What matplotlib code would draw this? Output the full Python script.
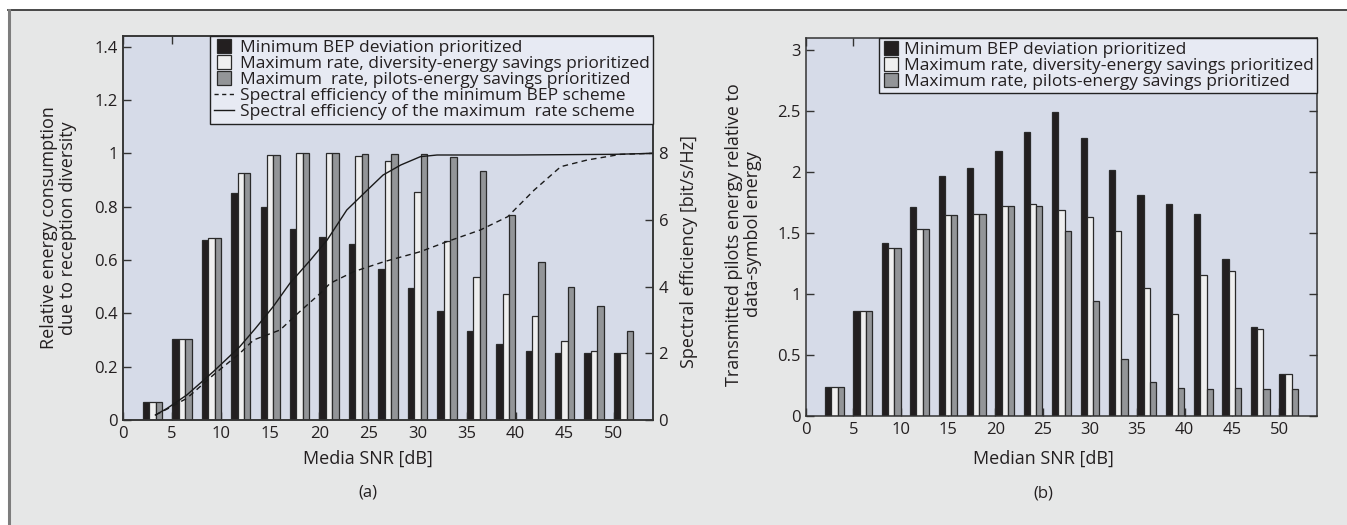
import numpy as np
import matplotlib
matplotlib.use("Agg")
import matplotlib.pyplot as plt
from matplotlib.lines import Line2D
from matplotlib.patches import Rectangle

# ---- data -------------------------------------------------------------
snr = [3, 6, 9, 12, 15, 18, 21, 24, 27, 30, 33, 36, 39, 42, 45, 48, 51]

# (a) relative energy consumption due to reception diversity
energy_min_bep = [0.066, 0.304, 0.675, 0.852, 0.80, 0.717, 0.687, 0.659, 0.566,
                  0.494, 0.409, 0.334, 0.284, 0.259, 0.252, 0.25, 0.25]
energy_div_save = [0.066, 0.304, 0.684, 0.925, 0.994, 1.0, 1.0, 0.99, 0.97,
                   0.856, 0.672, 0.535, 0.471, 0.39, 0.297, 0.26, 0.25]
energy_pil_save = [0.066, 0.304, 0.684, 0.925, 0.994, 1.0, 1.0, 0.996, 0.996,
                   0.997, 0.987, 0.935, 0.769, 0.594, 0.497, 0.429, 0.335]

# spectral efficiency curves [bit/s/Hz]
se_max_snr = [3.3, 4.5, 6.5, 9.2, 11.9, 13.5, 15.3, 17.0, 19.1, 20.8, 22.8,
              24.9, 26.5, 28.3, 30.3, 32.0, 40.0, 50.0, 54.0]
se_max = [0.15, 0.35, 0.75, 1.45, 2.2, 2.75, 3.4, 4.1, 4.8, 5.4, 6.3,
          6.9, 7.35, 7.65, 7.9, 7.95, 7.95, 7.97, 8.0]
se_min_snr = [3.3, 4.5, 6.5, 9.2, 11.9, 13.3, 16.0, 18.0, 20.1, 21.1, 23.5,
              26.6, 30.3, 33.0, 36.4, 39.2, 41.9, 44.6, 47.3, 50.7, 54.0]
se_min = [0.15, 0.33, 0.65, 1.35, 2.0, 2.4, 2.7, 3.25, 3.8, 4.1, 4.45,
          4.75, 5.05, 5.35, 5.7, 6.1, 6.9, 7.6, 7.8, 7.97, 8.0]

# (b) transmitted pilots energy relative to data-symbol energy
pilot_min_bep = [0.24, 0.858, 1.42, 1.71, 1.97, 2.03, 2.17, 2.33, 2.49, 2.28,
                 2.02, 1.81, 1.74, 1.66, 1.29, 0.727, 0.347]
pilot_div_save = [0.24, 0.858, 1.38, 1.53, 1.65, 1.66, 1.72, 1.74, 1.69, 1.63,
                  1.52, 1.05, 0.84, 1.16, 1.19, 0.71, 0.347]
pilot_pil_save = [0.24, 0.858, 1.38, 1.53, 1.65, 1.66, 1.72, 1.72, 1.52, 0.94,
                  0.47, 0.28, 0.227, 0.219, 0.227, 0.219, 0.22]

bar_labels = ["Minimum BEP deviation prioritized",
              "Maximum rate, diversity-energy savings prioritized",
              "Maximum  rate, pilots-energy savings prioritized"]
bar_labels_b = ["Minimum BEP deviation prioritized",
                "Maximum rate, diversity-energy savings prioritized",
                "Maximum rate, pilots-energy savings prioritized"]
line_labels = ["Spectral efficiency of the minimum BEP scheme",
               "Spectral efficiency of the maximum  rate scheme"]

# ---- style ------------------------------------------------------------
TXT = "#231f20"
DARK = "#231f20"
WHITE = "#efefef"
GRAY = "#939598"
AX_BG = "#d6dbe8"
LEG_BG = "#e7eaf3"
FIG_BG = "#e6e7e7"

TICK_FS = 12
LABEL_FS = 13
LEG_FS = 12.5

plt.rcParams["font.family"] = ["Open Sans", "DejaVu Sans"]
plt.rcParams["font.size"] = TICK_FS
plt.rcParams["text.color"] = TXT
plt.rcParams["axes.labelcolor"] = TXT
plt.rcParams["xtick.color"] = TXT
plt.rcParams["ytick.color"] = TXT

W, H = 1347, 525
fig = plt.figure(figsize=(W / 100, H / 100), dpi=100, facecolor="white")

# panel background with its frame lines
fig.patches.append(Rectangle((8 / W, 0), 1 - 8 / W, 1 - 9.5 / H, transform=fig.transFigure,
                             facecolor=FIG_BG, edgecolor="none", zorder=-10))
fig.add_artist(Line2D([8 / W, 1], [1 - 9.5 / H, 1 - 9.5 / H], transform=fig.transFigure,
                      color="#3a3a3a", lw=1.3))
fig.add_artist(Line2D([8.5 / W, 8.5 / W], [0, 1 - 9.5 / H], transform=fig.transFigure,
                      color="#7d7d7d", lw=2.2))

bw = 0.66
offsets = [-bw, 0.0, bw]
colors = [DARK, WHITE, GRAY]


def style_axes(ax):
    ax.set_facecolor(AX_BG)
    for sp in ax.spines.values():
        sp.set_color("#333333")
        sp.set_linewidth(1.1)
    ax.tick_params(direction="in", length=6, width=1, labelsize=TICK_FS, pad=4,
                   color="#333333")


def draw_bars(ax, series):
    x = np.asarray(snr, dtype=float)
    for off, vals, col in zip(offsets, series, colors):
        ax.bar(x + off, vals, width=bw, color=col, edgecolor="#2a2a2a",
               linewidth=0.9, zorder=2)


def fmt(v):
    return f"{v:g}"


# ---- (a) --------------------------------------------------------------
axa = fig.add_axes([123 / W, 1 - 420 / H, 530 / W, 384 / H])
style_axes(axa)
draw_bars(axa, [energy_min_bep, energy_div_save, energy_pil_save])
axa.set_xlim(0, 54)
axa.set_ylim(0, 1.44)
axa.set_xticks(range(0, 55, 5))
axa.set_yticks(np.arange(0, 1.41, 0.2))
axa.set_yticklabels([fmt(round(v, 1)) for v in np.arange(0, 1.41, 0.2)])
axa.tick_params(axis="x", top=True)
axa.set_xlabel("Media SNR [dB]", fontsize=LABEL_FS)
axa.xaxis.set_label_coords(0.462, -0.078)
axa.set_ylabel("Relative energy consumption\ndue to reception diversity",
               fontsize=LABEL_FS, linespacing=1.05)
axa.yaxis.set_label_coords(-0.087, 0.5)
axa.text(0.462, -0.19, "(a)", transform=axa.transAxes, ha="center", va="center",
         fontsize=TICK_FS)

axs = axa.twinx()
axs.set_ylim(0, 11.52)
axs.set_yticks([0, 2, 4, 6, 8])
for sp in axs.spines.values():
    sp.set_color("#333333")
    sp.set_linewidth(1.1)
axs.tick_params(direction="in", length=6, width=1, labelsize=TICK_FS, pad=4,
                color="#333333")
axs.plot(se_min_snr, se_min, color="#1a1a1a", lw=1.0, ls=(0, (4, 3)))
axs.plot(se_max_snr, se_max, color="#1a1a1a", lw=1.0, ls="-")
axs.set_ylabel("Spectral efficiency [bit/s/Hz]", fontsize=LABEL_FS)
axs.yaxis.set_label_coords(1.051, 0.44)

handles = [Line2D([], [], marker="s", ls="none", markersize=10, markerfacecolor=c,
                  markeredgecolor="#2a2a2a", markeredgewidth=0.9) for c in colors]
handles += [Line2D([], [], color="#1a1a1a", lw=1.0, ls=(0, (3, 2.5))),
            Line2D([], [], color="#1a1a1a", lw=1.0, ls="-")]
leg = axs.legend(handles, bar_labels + line_labels, loc="upper right",
                 borderaxespad=0, fontsize=LEG_FS, labelspacing=0.0, handlelength=1.2,
                 handletextpad=0.3, borderpad=0.2, fancybox=False, framealpha=1,
                 facecolor=LEG_BG, edgecolor="#222222")
leg.get_frame().set_linewidth(1.0)

# ---- (b) --------------------------------------------------------------
axb = fig.add_axes([806 / W, 1 - 416 / H, 511 / W, 378 / H])
style_axes(axb)
draw_bars(axb, [pilot_min_bep, pilot_div_save, pilot_pil_save])
axb.set_xlim(0, 54)
axb.set_ylim(0, 3.1)
axb.set_xticks(range(0, 55, 5))
yt = np.arange(0, 3.01, 0.5)
axb.set_yticks(yt)
axb.set_yticklabels([fmt(v) for v in yt])
axb.tick_params(axis="x", top=True)
axb.tick_params(axis="y", right=True)
axb.set_xlabel("Median SNR [dB]", fontsize=LABEL_FS)
axb.xaxis.set_label_coords(0.464, -0.09)
axb.set_ylabel("Transmitted pilots energy relative to\ndata-symbol energy",
               fontsize=LABEL_FS, linespacing=1.05)
axb.yaxis.set_label_coords(-0.086, 0.48)
axb.text(0.464, -0.205, "(b)", transform=axb.transAxes, ha="center", va="center",
         fontsize=TICK_FS)

hb = [Line2D([], [], marker="s", ls="none", markersize=10, markerfacecolor=c,
             markeredgecolor="#2a2a2a", markeredgewidth=0.9) for c in colors]
legb = axb.legend(hb, bar_labels_b, loc="upper right", borderaxespad=0, fontsize=LEG_FS,
                  labelspacing=0.0, handlelength=0.9, handletextpad=0.3,
                  borderpad=0.2, fancybox=False, framealpha=1,
                  facecolor=LEG_BG, edgecolor="#222222")
legb.get_frame().set_linewidth(1.0)

fig.savefig("out.png", dpi=100, facecolor="white")
